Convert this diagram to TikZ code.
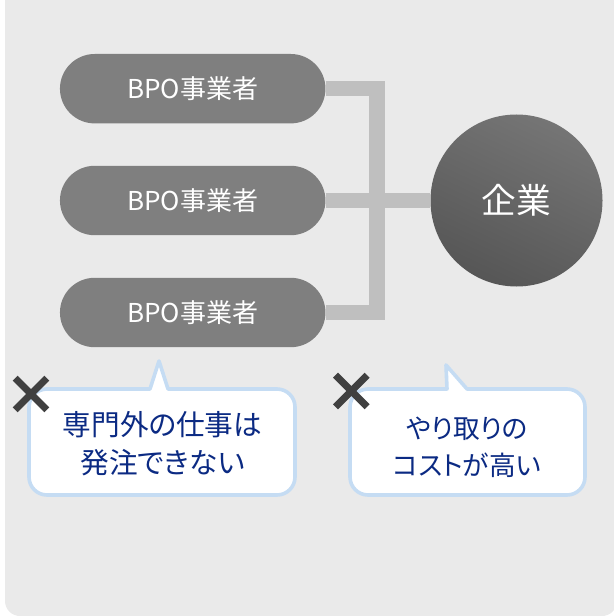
\documentclass[tikz,border=0pt]{standalone}
\usepackage{fontspec}
\setmainfont{Noto Sans CJK JP}[RawFeature=+palt]
\usetikzlibrary{backgrounds}
\definecolor{panel}{HTML}{EAEAEA}
\definecolor{linkc}{HTML}{BFBFBF}
\definecolor{pillc}{HTML}{7F7F7F}
\definecolor{hubtop}{HTML}{757575}
\definecolor{hubbottom}{HTML}{565656}
\definecolor{calloutline}{HTML}{C5DCF3}
\definecolor{calloutink}{HTML}{0B2A83}
\definecolor{crossc}{HTML}{404040}
\tikzset{
  x=0.75pt,y=-0.75pt,
  pill/.style={rectangle, rounded corners=34.7*0.75pt, fill=pillc, text=white, minimum width=265.5*0.75pt, minimum height=69.4*0.75pt, inner sep=0pt, font=\fontsize{19.5pt}{22pt}\selectfont},
  hub/.style={circle, minimum size=172*0.75pt, inner sep=0pt, top color=hubtop, bottom color=hubbottom, shading angle=-25, text=white, font=\fontsize{26pt}{28pt}\selectfont},
  linkline/.style={draw=linkc, line width=15.6*0.75pt},
  bubble/.style={draw=calloutline, fill=white, line width=3.6*0.75pt, line join=round},
  bubbletext/.style={text=calloutink, align=center, inner sep=0pt, font=\fontsize{21.5pt}{28.5pt}\selectfont},
  bubbletextnarrow/.style={bubbletext, font=\fontsize{20pt}{27.5pt}\selectfont},
  crossline/.style={draw=crossc, line width=7*0.75pt},
}
\begin{document}
\begin{tikzpicture}
\useasboundingbox (0,0) rectangle (613,616);
\node[pill] (p1) at (192.7,88.7) {BPO事業者};
\node[pill] (p2) at (192.7,200.5) {BPO事業者};
\node[pill] (p3) at (192.7,312.5) {BPO事業者};
\node[hub] (c) at (516.5,200.5) {企業};
\coordinate (j1) at (376.7,88.7);
\coordinate (j3) at (376.7,312.5);
\begin{scope}[on background layer]
  \fill[white] (0,0) rectangle (613,616);
  \fill[panel, rounded corners=15*0.75pt] (5,-30) rectangle (617,616);
  \draw[linkline] (p1.east) -- (j1) -- (j3) -- (p3.east);
  \draw[linkline] (p2.east) -- (c.west);
\end{scope}
% left callout
\path[bubble] (150,389) -- (159,361) -- (168,389) [rounded corners=18*0.75pt]
  -- (295,389) -- (295,495) -- (29,495) -- (29,389) [sharp corners] -- cycle;
\node[bubbletext] (t1) at (162.5,444) {専門外の仕事は\\発注できない};
% right callout
\path[bubble] (447,389) -- (446,365) -- (467,389) [rounded corners=18*0.75pt]
  -- (585,389) -- (585,495) -- (350,495) -- (350,389) [sharp corners] -- cycle;
\node[bubbletextnarrow] (t2) at (467,447) {やり取りの\\コストが高い};
% crosses
\draw[crossline] (15.2,378.2) -- (46.8,409.8);
\draw[crossline] (15.2,409.8) -- (46.8,378.2);
\draw[crossline] (335.5,375.2) -- (367.1,406.8);
\draw[crossline] (335.5,406.8) -- (367.1,375.2);
\end{tikzpicture}
\end{document}
